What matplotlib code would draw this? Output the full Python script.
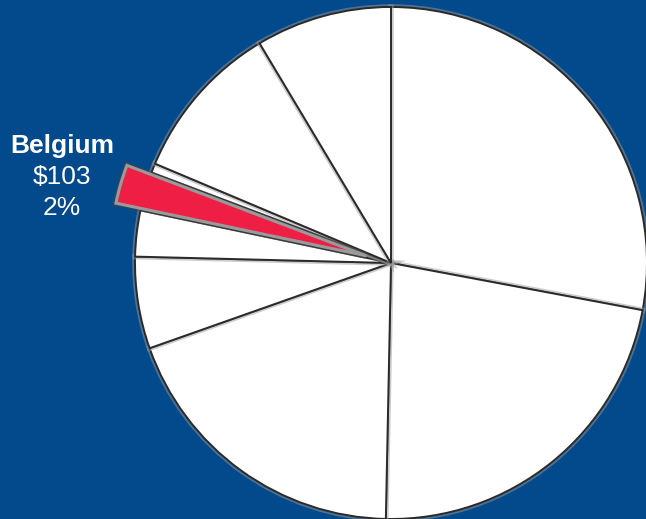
import matplotlib
matplotlib.use("Agg")
import matplotlib.pyplot as plt
import matplotlib.patheffects as pe

# Data (clockwise from 12 o'clock)
categories = ["A", "B", "C", "D", "E", "Belgium", "F", "G", "H"]
values = [1176, 941, 811, 244, 122, 103, 25, 424, 361]
highlight = "Belgium"

BG = "#024A8C"
RED = "#EE1E45"

W, H = 646, 519
cx, cy = 391, 263   # pie centre in pixels (from top-left)
R = 256

fig = plt.figure(figsize=(W / 100, H / 100), dpi=100, facecolor=BG)
ax = fig.add_axes([0, 0, 1, 1])
ax.set_facecolor(BG)

colors = [RED if c == highlight else "white" for c in categories]
explode = [0.1 * R if c == highlight else 0.0 for c in categories]

wedges, _ = ax.pie(values, colors=colors, explode=explode, startangle=90,
                   counterclock=False, radius=R, center=(0, 0),
                   wedgeprops=dict(edgecolor="#2a2a2a", linewidth=1.4))
for w, c in zip(wedges, categories):
    if c == highlight:
        w.set_edgecolor("#9a9a9a")
        w.set_linewidth(2.2)
        w.set_path_effects([pe.Stroke(linewidth=4.5, foreground="#444444", alpha=0.6), pe.Normal()])
        w.set_zorder(5)
    else:
        w.set_path_effects([pe.Stroke(linewidth=4, foreground="#9a9a9a", alpha=0.5), pe.Normal()])

ax.set_xlim(-cx, W - cx)
ax.set_ylim(-(H - cy), cy)
ax.set_aspect("auto")
ax.axis("off")

# Label
idx = categories.index(highlight)
total = sum(values)
pct = round(values[idx] / total * 100)
lx = 62
lines = [(highlight, "bold", 153), (f"${values[idx]}", "normal", 184), (f"{pct}%", "normal", 215)]
for txt, weight, base in lines:
    fig.text(lx / W, (H - base) / H, txt, ha="center", va="baseline",
             color="white", fontsize=19, fontweight=weight,
             family=["Liberation Sans", "DejaVu Sans"])

fig.savefig("out.png", dpi=100, facecolor=BG)
